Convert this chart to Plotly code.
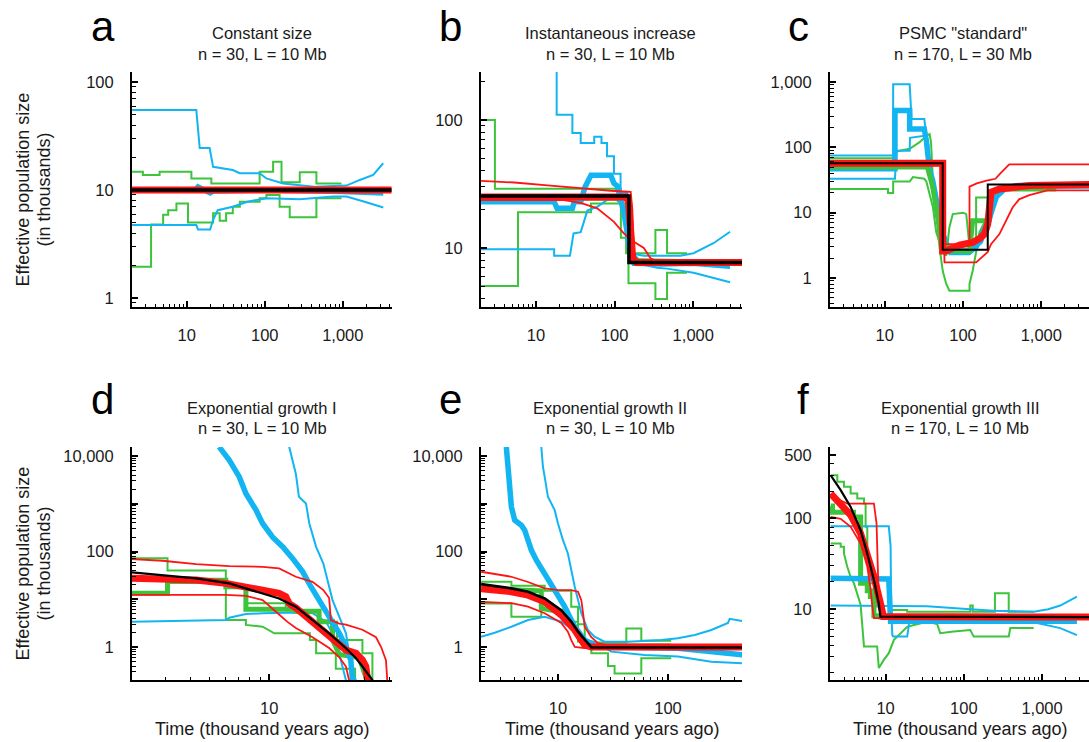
import plotly.graph_objects as go

W, H = 1089, 742          # size of the reference picture
OFF = 0                   # page body margin is removed by the post script
FW, FH = W - OFF, H - OFF
BLUE = "#12B5F2"
GREEN = "#3CC43C"
RED = "#FF1414"
TXT = "#1a1a1a"
FONT = "Arial, Liberation Sans, sans-serif"

# ---------------- panel a : constant size ----------------
A_BLACK = [(2, 10), (4200, 10)]
A_RED = [(2, 10), (4200, 10)]
A_RED_HI = [(2, 10.3), (4200, 10.3)]
A_RED_LO = [(2, 9.7), (4200, 9.7)]
A_BLUE = [(2, 10), (13, 10), (14, 10.7), (20, 9.4), (22, 9.8), (100, 10), (1000, 9.7), (3300, 9.4)]
A_BLUE_HI = [(2, 55), (13.3, 55), (14.7, 24.5), (19.7, 24.5), (21.8, 16.4), (39, 15.3), (47.9, 14.3),
             (86, 14.3), (105, 12.8), (172, 11.5), (281, 11.1), (459, 10.7), (751, 10.9), (1114, 11.0),
             (1652, 12.4), (2450, 13.8), (3290, 17.7)]
A_BLUE_LO = [(2, 4.74), (13.3, 4.74), (14.0, 4.3), (20, 4.3), (21.8, 5.3), (25, 6.5), (39, 7.0), (60, 7.8),
             (105, 8.4), (281, 8.2), (751, 8.7), (1114, 8.7), (1900, 7.8), (3300, 6.9)]
A_GREEN = [(2, 9.9), (1000, 9.9)]
A_GREEN_HI = [(2, 14.8), (2.75, 13.8), (4.5, 14.8), (11.5, 12.8), (20.7, 11.5), (86, 14.8), (128, 18.3),
              (164, 11.8), (281, 14.6), (459, 11.5), (961, 11.5)]
A_GREEN_LO = [(2, 1.95), (3.5, 4.8), (5.0, 5.9), (5.8, 6.5), (7.4, 7.5), (10.4, 5.0), (21.8, 6.1), (26.5, 5.2),
              (32, 6.1), (39, 7.0), (48, 7.8), (86, 8.4), (105, 9.0), (155, 7.0), (209, 5.6), (459, 8.4),
              (961, 8.4)]

# ---------------- panel b : instantaneous increase ----------------
B_BLACK = [(2, 25.5), (152, 25.5), (152, 7.7), (4200, 7.7)]
B_RED = [(2, 25), (140, 25), (150, 23), (160, 12), (170, 8.3), (190, 7.7), (4200, 7.7)]
B_RED_HI = [(2, 33.4), (5.3, 32.5), (14, 30.8), (37, 29.2), (89, 28), (160, 27.5), (168, 20), (175, 8.5),
            (200, 7.9), (4200, 7.9)]
B_RED_LO = [(2, 23.7), (22.6, 23.7), (37, 22.5), (60, 20.4), (98, 16), (131, 13), (160, 11.6), (235, 10),
            (286, 8.3), (400, 7.6), (4200, 7.6)]
B_BLUE = [(2, 23), (17, 23), (18.5, 20.4), (29, 20.4), (30.5, 23), (37, 23), (42, 30), (50, 37), (89, 37),
          (98, 32), (108, 30.6), (119, 24), (131, 19), (145, 13), (160, 8.5), (176, 7.6), (400, 7.5),
          (1000, 7.6), (2938, 7.2)]
B_BLUE_HI = [(18.3, 240), (18.3, 110), (29, 110), (29, 79), (37, 79), (37, 66), (55, 66), (55, 74), (68, 74),
             (68, 66), (80, 66), (80, 52), (98, 52), (98, 38), (119, 38), (119, 27), (145, 27), (155, 9.1),
             (235, 8.7), (684, 8.7), (1009, 9.1), (1806, 10.9), (2938, 13.4)]
B_BLUE_LO = [(2, 9.77), (17, 9.77), (17, 8.7), (27, 8.7), (30, 13), (37, 13.3), (45, 19.6), (60, 21),
             (80, 23.7), (98, 24.5), (119, 22.5), (145, 15), (160, 9.5), (235, 7.4), (347, 7.0), (464, 6.9),
             (1009, 6.4), (1806, 5.8), (2938, 5.4)]
B_GREEN = [(2, 24.5), (150, 24.5), (160, 8), (1000, 7.8)]
B_GREEN_A = [(2, 100), (3.0, 29), (120, 12), (150, 5.3), (330, 4.0), (464, 6.4), (832, 6.4)]
B_GREEN_B = [(2, 5.05), (5.9, 19), (50, 22.3), (140, 9.1), (330, 13.8), (464, 9.1), (832, 9.1)]

# ---------------- panel c : PSMC "standard" ----------------
C_BLACK = [(2, 57), (55, 57), (55, 2.7), (207, 2.7), (207, 27), (4200, 27)]
C_RED = [(2, 57), (55, 57), (55, 2.6), (61, 2.6), (90, 3.2), (133, 3.5), (162, 4.0), (188, 4.7), (207, 6.7),
         (228, 20.5), (292, 23), (475, 25), (703, 26), (4200, 27)]
C_RED_HI = [(2, 60), (56, 60), (58, 3.3), (121, 3.3), (121, 25), (150, 28), (200, 31), (260, 33), (300, 40),
            (390, 55), (4200, 55)]
C_RED_LO = [(2, 53), (54, 53), (58, 1.73), (147, 1.73), (207, 2.5), (228, 3.3), (292, 4.7), (354, 7.5),
            (430, 12), (520, 16), (703, 18.5), (1200, 22), (4200, 22)]
C_BLUE = [(2, 47), (13.5, 47), (13.5, 365), (20.8, 365), (20.8, 191), (32, 191), (34, 127), (37.4, 44),
          (41, 31), (50, 9.5), (55, 4.7), (67, 2.6), (74, 2.5), (121, 2.5), (147, 3.0), (175, 4.7),
          (215, 7.5), (228, 10.7), (260, 17), (354, 24), (500, 26), (4200, 26)]
C_BLUE_HI = [(2, 75), (12.8, 75), (12.8, 920), (20.8, 920), (22, 272), (32, 272), (34, 150), (37, 60),
             (41, 25), (50, 10), (55, 4), (67, 2.8), (150, 2.8), (200, 6), (260, 17), (400, 25), (4200, 25)]
C_BLUE_LO = [(2, 33), (13.5, 33), (14.1, 89), (20.8, 89), (21, 140), (32, 150), (36, 110), (38, 30),
             (45, 12), (55, 4), (67, 2.3), (121, 2.3), (175, 3.5), (228, 8), (292, 20), (400, 24), (4200, 24)]
C_GREEN = [(2, 50), (35, 50), (41, 25), (47, 9), (55, 4), (67, 2.6), (121, 2.6), (133, 7.5), (207, 7.5),
           (215, 13), (228, 20), (292, 23), (1550, 23)]
C_GREEN_A = [(2, 68), (12.8, 68), (13.2, 85), (20.8, 95), (27.9, 120), (34, 150), (37.4, 160), (39, 120),
             (41.3, 30), (45.5, 9), (50, 3), (55, 1.29), (61, 0.81), (67, 0.64), (121, 0.64), (121, 0.81),
             (133, 1.29), (147, 2.5), (162, 5), (207, 9), (228, 20), (292, 24), (1550, 24)]
C_GREEN_B = [(2, 23), (11, 23), (11, 20), (12.8, 20), (12.8, 30), (20.8, 30), (22.9, 35), (32, 33), (34, 30),
             (37.4, 20), (41.3, 12), (45.5, 5), (55, 2.5), (61, 2.2), (67, 6), (74, 9.5), (100, 10),
             (110, 9.5), (115, 5), (121, 3), (133, 3), (147, 4), (147, 17), (207, 17), (207, 8), (228, 12),
             (292, 22), (1550, 23)]

# ---------------- panel d : exponential growth I ----------------
D_BLACK = [(2.04, 36.5), (2.91, 32.1), (4.29, 27.4), (6.29, 21.5), (9.26, 13.3), (11.2, 10.4), (13.6, 7.0),
           (16.5, 3.67), (20, 1.93), (24.3, 0.94), (27.3, 0.58), (29.4, 0.39), (31.8, 0.26), (33.1, 0.2)]
D_RED = [(2.04, 27.4), (2.91, 27.4), (4.29, 25.2), (6.05, 21.5), (7.63, 18.3), (9.26, 15.6), (11.2, 13.3),
         (12.1, 11.3), (12.6, 8.1), (13.6, 6.6), (16.5, 3.4), (20, 1.6), (24.3, 0.86), (27.3, 0.74),
         (29.4, 0.53), (30.6, 0.39), (31.2, 0.2)]
D_RED_HI = [(2.04, 69), (2.91, 64), (4.29, 54.5), (6.29, 49.4), (9.26, 47.9), (11.2, 44.3), (13.6, 29.6),
            (16.5, 23.2), (18.7, 15.6), (20, 10.6), (20.4, 3.67), (22.5, 3.1), (24.3, 2.95), (29.4, 2.3),
            (34.4, 1.6), (36.5, 1.0), (38.6, 0.53), (39.2, 0.2)]
D_RED_LO = [(2.04, 12.4), (6.05, 12.4), (7.63, 11.8), (9.26, 9.6), (10.6, 5.9), (12.3, 3.4), (13.6, 2.5),
            (16.5, 1.6), (20, 0.95), (22.5, 0.61), (24.3, 0.39), (25.2, 0.2)]
D_BLUE = [(5.6, 15500), (6.29, 8200), (7.07, 3650), (7.63, 1640), (8.58, 735), (9.26, 387), (10.4, 200),
          (11.7, 125), (13.1, 71.6), (14.7, 38), (16.2, 18.3), (17.8, 9.6), (20, 4.3), (22.5, 1.93),
          (24.3, 1.0), (25.7, 0.53), (26.2, 0.2)]
D_BLUE_HI = [(12.6, 15500), (13.1, 8200), (13.6, 4270), (14.1, 1400), (15.3, 1014), (15.9, 387), (17.2, 125),
             (18.7, 56), (20, 18.3), (20.8, 9.6), (22.5, 4.3), (24.3, 1.93), (25.2, 0.74), (26.2, 0.28),
             (27.3, 0.2)]
D_BLUE_LO = [(2.04, 3.4), (6.05, 3.67), (6.29, 4.1), (7.63, 4.9), (9.26, 5.1), (13.6, 5.3), (16.5, 5.1),
             (19.3, 3.4), (21.6, 1.4), (23.4, 0.39), (24.3, 0.2)]
D_GREEN = [(2.04, 13.3), (3.08, 13.3), (3.08, 25), (6.05, 25), (6.05, 18.3), (7.63, 18.3), (7.63, 6.2),
           (13.6, 6.2), (13.6, 5.6), (17.8, 5.6), (17.8, 3.4), (20.8, 3.4), (20.8, 1.4), (21.6, 1.0),
           (22.5, 0.7), (28.3, 0.6), (31, 0.2)]
D_GREEN_A = [(2.04, 72), (3.08, 72), (3.08, 40), (6.05, 40), (6.05, 3.67), (7.63, 3.67), (7.63, 2.9),
             (9.26, 2.66), (10.6, 1.93), (16, 1.93), (16, 1.4), (17.2, 1.4), (17.2, 0.74), (21.6, 0.74),
             (21.6, 0.35), (27, 0.35), (27, 0.2)]
D_GREEN_B = [(2.04, 13.3), (3.08, 13.3), (3.08, 22), (6.05, 22), (6.05, 18.3), (7.63, 18.3), (7.63, 8.3),
             (12.1, 8.3), (12.1, 5.9), (17.8, 5.9), (17.8, 3.4), (21.9, 3.4), (21.9, 1.4), (29.4, 1.4),
             (29.4, 0.74), (33, 0.74), (33, 0.2)]

# ---------------- panel e : exponential growth II ----------------
E_BLACK = [(2.0, 20.8), (3.77, 16.9), (5.34, 14.4), (7.57, 10.4), (10.7, 5.9), (13.2, 3.4), (15.2, 2.1),
           (17.5, 1.4), (20.1, 0.98), (500, 0.98)]
E_RED = [(2.0, 16.6), (3.77, 14.4), (5.34, 12.2), (7.57, 8.9), (10.7, 4.7), (14.2, 2.27), (16.3, 1.4),
         (17.5, 1.1), (20.1, 1.0), (500, 1.0)]
E_RED_HI = [(2.0, 37.7), (3.77, 29.6), (5.34, 23), (7.57, 16.9), (10, 15.6), (13.2, 15.6), (15.2, 14.4),
            (16.3, 9.6), (16.9, 5.1), (17.5, 2.66), (20.1, 1.6), (23.1, 1.2), (27.5, 1.1), (500, 1.1)]
E_RED_LO = [(2.0, 8.8), (3.77, 8.3), (5.34, 7.0), (7.57, 5.1), (10.7, 3.2), (12.3, 2.1), (13.2, 1.4),
            (14.2, 1.0), (17.5, 0.95), (500, 0.93)]
E_BLUE = [(3.39, 15500), (3.64, 1930), (3.77, 863), (4.04, 454), (4.64, 356), (4.98, 280), (5.34, 173),
          (5.72, 107), (6.36, 66), (7.57, 34.7), (9.33, 15.6), (11.5, 7.0), (14.2, 2.66), (17.5, 1.4),
          (20.1, 1.1), (30.5, 1.0), (123, 0.94), (248, 0.8), (500, 0.68)]
E_BLUE_HI = [(7.05, 15500), (7.3, 5900), (7.57, 3650), (8.1, 1400), (9.33, 735), (10, 387), (11.1, 173),
             (12.3, 91), (14.2, 18.3), (15.2, 9.6), (16.3, 5.1), (18.7, 2.27), (21.5, 1.64), (26.5, 1.29),
             (43.3, 1.29), (87, 1.4), (123, 1.52), (175, 1.78), (248, 2.27), (351, 3.2), (364, 3.9),
             (500, 3.4)]
E_BLUE_LO = [(2.0, 1.64), (2.66, 1.99), (3.77, 2.66), (5.34, 3.67), (7.57, 4.3), (10.7, 3.4), (13.2, 2.45),
             (15.2, 1.78), (18.7, 1.4), (23.1, 1.19), (30.5, 0.8), (61.4, 0.68), (123, 0.63), (248, 0.49),
             (500, 0.455)]
E_GREEN = [(2.0, 17), (7.05, 15), (7.05, 6.5), (8.5, 6.0), (10, 5.5), (12.3, 4.0), (14.2, 2.6), (16.3, 1.5),
           (18.7, 1.05), (107, 1.05)]
E_GREEN_A = [(2.0, 23.2), (3.77, 19.2), (7.57, 15), (13.2, 7), (15.2, 3), (17.5, 1.25), (41.8, 2.45),
             (57.2, 1.35), (107, 1.35)]
E_GREEN_B = [(2.0, 8.2), (3.77, 4.3), (7.05, 6.0), (12.3, 3.4), (15.2, 1.3), (20.1, 0.74), (28.5, 0.4),
             (32.7, 0.28), (57.2, 0.58), (107, 0.58)]

# ---------------- panel f : exponential growth III ----------------
F_BLACK = [(1.99, 299), (2.67, 205), (3.58, 134), (4.8, 74), (5.84, 41), (7.1, 21), (8.2, 11.6), (8.6, 8.3),
           (4200, 8.2)]
F_RED = [(1.99, 188), (2.67, 146), (3.58, 109), (4.8, 68), (5.84, 41), (7.1, 23), (8.6, 11.6), (9.4, 8.3),
         (4200, 8.2)]
F_RED_HI = [(1.99, 176), (3.25, 146), (7.1, 146), (7.67, 88), (8.0, 25), (8.3, 10.4), (8.9, 8.3), (4200, 8.3)]
F_RED_LO = [(1.99, 104), (2.67, 99), (3.58, 81), (4.8, 53), (5.84, 29.4), (6.4, 17.3), (6.8, 10.4),
            (7.1, 8.0), (4200, 8.0)]
F_BLUE = [(1.99, 22), (10, 22), (11, 21.5), (11.6, 7.4), (2790, 7.4)]
F_BLUE_HI = [(1.99, 82), (11, 82), (11.6, 50), (11.8, 10), (12.2, 5.2), (12.5, 5.0), (18.9, 5.0), (20, 7.0),
             (34, 7.6), (781, 7.2), (1710, 6.2), (2790, 5.2)]
F_BLUE_LO = [(1.99, 11), (10, 11), (34, 10.8), (121, 10), (241, 9.6), (781, 9.4), (1200, 10), (1710, 11),
             (2300, 12.6), (2790, 13.8)]
F_GREEN = [(1.99, 137), (2.1, 117), (3.9, 104), (4.8, 19.3), (5.84, 16), (6.4, 13.8), (7.1, 8.5), (8.6, 8.2),
           (780, 8.2)]
F_GREEN_A = [(1.99, 299), (2.42, 253), (2.94, 223), (3.58, 188), (4.35, 166), (5.3, 146), (5.56, 81),
             (5.84, 37.9), (6.14, 19.3), (7.1, 13.8), (7.8, 10.7), (8.6, 8.3), (11, 9.8), (18.9, 9.4),
             (121, 11), (130, 9.4), (250, 15), (375, 9.4), (781, 9.4)]
F_GREEN_B = [(1.99, 53), (2.67, 53), (2.67, 48.8), (2.94, 48.8), (2.94, 41.2), (3.24, 29.4), (3.58, 22.8),
             (3.95, 19.3), (4.8, 11.2), (5.05, 6.4), (5.3, 3.9), (7.8, 3.9), (8.2, 2.25), (9.5, 2.77),
             (11, 3.28), (12.8, 4.6), (15.5, 5.45), (18.9, 6.4), (23, 6.7), (34, 7.3), (45.6, 6.9),
             (50, 5.45), (74, 5.7), (121, 5.9), (134, 5.0), (375, 5.0), (393, 6.2), (781, 6.2)]

# ---------------- titles / labels ----------------
LETTERS = ["a", "b", "c", "d", "e", "f"]
TITLES = ["Constant size", "Instantaneous increase", 'PSMC "standard"',
          "Exponential growth I", "Exponential growth II", "Exponential growth III"]
SUBTITLES = ["n = 30, L = 10 Mb", "n = 30, L = 10 Mb", "n = 170, L = 30 Mb",
             "n = 30, L = 10 Mb", "n = 30, L = 10 Mb", "n = 170, L = 10 Mb"]
Y_TITLE = ["Effective population size", "(in thousands)"]
X_TITLE = "Time (thousand years ago)"


def decade_minors(lo, hi):
    out = []
    d = lo
    while d < hi:
        for k in range(2, 10):
            v = k * d
            if v <= hi:
                out.append(v)
        d *= 10
    return out


X_MAJ_ABC = [10, 100, 1000]
X_LAB_ABC = ["10", "100", "1,000"]
X_MAJ_D = [10]
X_LAB_D = ["10"]
X_MAJ_E = [10, 100]
X_LAB_E = ["10", "100"]
Y_MAJ_A = [1, 10, 100]
Y_LAB_A = ["1", "10", "100"]
Y_MAJ_B = [10, 100]
Y_LAB_B = ["10", "100"]
Y_MAJ_C = [1, 10, 100, 1000]
Y_LAB_C = ["1", "10", "100", "1,000"]
Y_MAJ_DE = [1, 10, 100, 1000, 10000]
Y_LAB_DE = ["1", "", "100", "", "10,000"]
Y_MAJ_F = [10, 100, 500]
Y_LAB_F = ["10", "100", "500"]

# pixel geometry of each panel in the reference picture: (left, right, top, bottom)
BOX = {
    "a": (132, 392, 72, 307), "b": (481, 742, 72, 307), "c": (830, 1089, 72, 307),
    "d": (132, 392, 447, 680), "e": (481, 742, 447, 680), "f": (830, 1089, 447, 680),
}
# axis ranges (log10 units)
XR = {"a": [0.30, 3.63], "b": [0.30, 3.62], "c": [0.30, 3.61],
      "d": [0.31, 1.617], "e": [0.30, 2.673], "f": [0.29, 3.60]}
YR = {"a": [-0.083, 2.093], "b": [0.539, 2.375], "c": [-0.444, 3.153],
      "d": [-0.691, 4.189], "e": [-0.691, 4.189], "f": [0.221, 2.787]}

XT = {"a": (X_MAJ_ABC, X_LAB_ABC, decade_minors(1, 4100)),
      "b": (X_MAJ_ABC, X_LAB_ABC, decade_minors(1, 4100)),
      "c": (X_MAJ_ABC, X_LAB_ABC, decade_minors(1, 4100)),
      "d": (X_MAJ_D, X_LAB_D, decade_minors(1, 41)),
      "e": (X_MAJ_E, X_LAB_E, decade_minors(1, 470)),
      "f": (X_MAJ_ABC, X_LAB_ABC, decade_minors(1, 4000))}
YT = {"a": (Y_MAJ_A, Y_LAB_A, [0.9] + decade_minors(1, 120)),
      "b": (Y_MAJ_B, Y_LAB_B, decade_minors(1, 230)),
      "c": (Y_MAJ_C, Y_LAB_C, decade_minors(0.1, 1400)),
      "d": (Y_MAJ_DE, Y_LAB_DE, decade_minors(0.1, 15000)),
      "e": (Y_MAJ_DE, Y_LAB_DE, decade_minors(0.1, 15000)),
      "f": (Y_MAJ_F, Y_LAB_F, [v for v in decade_minors(1, 600) if v != 500])}

# series drawing order: thin green, thin blue, thick green, thick blue, thin red, thick red, black
SERIES = {
    "a": [("green", A_GREEN_HI, "hv"), ("green", A_GREEN_LO, "hv"), ("blue", A_BLUE_HI, "linear"),
          ("blue", A_BLUE_LO, "linear"), ("green_thick", A_GREEN, "linear"), ("blue_thick", A_BLUE, "linear"),
          ("red", A_RED_HI, "linear"), ("red", A_RED_LO, "linear"), ("red_thick", A_RED, "linear"),
          ("black", A_BLACK, "linear")],
    "b": [("green", B_GREEN_A, "hv"), ("green", B_GREEN_B, "hv"), ("blue", B_BLUE_HI, "linear"),
          ("blue", B_BLUE_LO, "linear"), ("green_thick", B_GREEN, "linear"), ("blue_thick", B_BLUE, "linear"),
          ("red", B_RED_HI, "linear"), ("red", B_RED_LO, "linear"), ("red_thick", B_RED, "linear"),
          ("black", B_BLACK, "linear")],
    "c": [("green", C_GREEN_A, "linear"), ("green", C_GREEN_B, "linear"), ("blue", C_BLUE_HI, "linear"),
          ("blue", C_BLUE_LO, "linear"), ("blue_thick", C_BLUE, "linear"), ("green_thick", C_GREEN, "linear"),
          ("red", C_RED_HI, "linear"), ("red", C_RED_LO, "linear"), ("red_thick", C_RED, "linear"),
          ("black", C_BLACK, "linear")],
    "d": [("green", D_GREEN_A, "linear"), ("green", D_GREEN_B, "linear"), ("blue", D_BLUE_HI, "linear"),
          ("blue", D_BLUE_LO, "linear"), ("green_thick", D_GREEN, "linear"), ("blue_thick", D_BLUE, "linear"),
          ("red", D_RED_HI, "linear"), ("red", D_RED_LO, "linear"), ("red_thick", D_RED, "linear"),
          ("black", D_BLACK, "linear")],
    "e": [("green", E_GREEN_A, "hv"), ("green", E_GREEN_B, "hv"), ("blue", E_BLUE_HI, "linear"),
          ("blue", E_BLUE_LO, "linear"), ("green_thick", E_GREEN, "linear"), ("blue_thick", E_BLUE, "linear"),
          ("red", E_RED_HI, "linear"), ("red", E_RED_LO, "linear"), ("red_thick", E_RED, "linear"),
          ("black", E_BLACK, "linear")],
    "f": [("green", F_GREEN_A, "hv"), ("green", F_GREEN_B, "linear"), ("blue", F_BLUE_HI, "linear"),
          ("blue", F_BLUE_LO, "linear"), ("green_thick", F_GREEN, "hv"), ("blue_thick", F_BLUE, "linear"),
          ("red", F_RED_HI, "linear"), ("red", F_RED_LO, "linear"), ("red_thick", F_RED, "linear"),
          ("black", F_BLACK, "linear")],
}
BLACK_W = {"a": 3.5, "b": 3.5, "c": 2.0, "d": 2.2, "e": 2.6, "f": 2.2}
STYLE = {
    "blue": (BLUE, 2.0), "blue_thick": (BLUE, 5.5),
    "green": (GREEN, 2.0), "green_thick": (GREEN, 5.0),
    "red": (RED, 1.8), "red_thick": (RED, 7.0),
}


def fx(x):
    return (x - OFF) / FW


def fy(y):
    return 1 - (y - OFF) / FH


fig = go.Figure()
layout = dict(width=FW, height=FH, margin=dict(l=0, r=0, t=0, b=0), paper_bgcolor="white",
              plot_bgcolor="white", showlegend=False)
annotations = []

for i, key in enumerate(LETTERS):
    n = "" if i == 0 else str(i + 1)
    l, r, t, b = BOX[key]
    for style, pts, shape in SERIES[key]:
        if style == "black":
            color, width = "black", BLACK_W[key]
        else:
            color, width = STYLE[style]
        fig.add_trace(go.Scatter(
            x=[p[0] for p in pts], y=[p[1] for p in pts], mode="lines",
            line=dict(color=color, width=width, shape=shape),
            xaxis="x" + n, yaxis="y" + n, hoverinfo="skip"))
    xmaj, xlab, xmin = XT[key]
    ymaj, ylab, ymin = YT[key]
    common = dict(type="log", showline=True, linecolor="black", linewidth=2, mirror=False,
                  showgrid=False, zeroline=False, ticks="inside", ticklen=6, tickwidth=1.5,
                  tickcolor="black", tickmode="array",
                  tickfont=dict(family=FONT, size=16.5, color=TXT))
    layout["xaxis" + n] = dict(common, domain=[fx(l), min(1.0, fx(r))], range=XR[key], anchor="y" + n,
                               tickvals=xmaj, ticktext=xlab, ticklabelstandoff=12,
                               minor=dict(ticks="inside", ticklen=3.5, tickwidth=1.2, tickcolor="black",
                                          tickmode="array", tickvals=xmin, showgrid=False))
    layout["yaxis" + n] = dict(common, domain=[fy(b), fy(t)], range=YR[key], anchor="x" + n,
                               tickvals=ymaj, ticktext=ylab, ticklabelstandoff=13,
                               minor=dict(ticks="inside", ticklen=3.5, tickwidth=1.2, tickcolor="black",
                                          tickmode="array", tickvals=ymin, showgrid=False))
    cx = (l + r) / 2
    row_top = 0 if i < 3 else 374
    letter_x = {"a": 89, "b": 437, "c": 786, "d": 89, "e": 437, "f": 795}[key]
    annotations.append(dict(text=key, x=fx(letter_x), y=fy(row_top + 26), xref="paper", yref="paper",
                            xanchor="left", yanchor="middle", showarrow=False,
                            font=dict(family=FONT, size=42, color="black")))
    tcx = {"a": 262, "b": 610, "c": 963, "d": 262, "e": 610, "f": 960}[key]
    annotations.append(dict(text=TITLES[i], x=fx(tcx), y=fy(row_top + 33.5), xref="paper", yref="paper",
                            xanchor="center", yanchor="middle", showarrow=False,
                            font=dict(family=FONT, size=16.5, color=TXT)))
    annotations.append(dict(text=SUBTITLES[i], x=fx(tcx), y=fy(row_top + 53.5), xref="paper", yref="paper",
                            xanchor="center", yanchor="middle", showarrow=False,
                            font=dict(family=FONT, size=16.5, color=TXT)))
    if i >= 3:
        annotations.append(dict(text=X_TITLE, x=fx(cx), y=fy(729), xref="paper", yref="paper",
                                xanchor="center", yanchor="middle", showarrow=False,
                                font=dict(family=FONT, size=18, color=TXT)))

for yc in (189.5, 563.5):
    for txt, xc in zip(Y_TITLE, (22, 43)):
        annotations.append(dict(text=txt, x=fx(xc), y=fy(yc), xref="paper", yref="paper", textangle=-90,
                                xanchor="center", yanchor="middle", showarrow=False,
                                font=dict(family=FONT, size=18, color=TXT)))

layout["annotations"] = annotations
fig.update_layout(**layout)
fig.write_html("out.html", config={"displayModeBar": False},
               post_script="document.body.style.margin='0px';")
